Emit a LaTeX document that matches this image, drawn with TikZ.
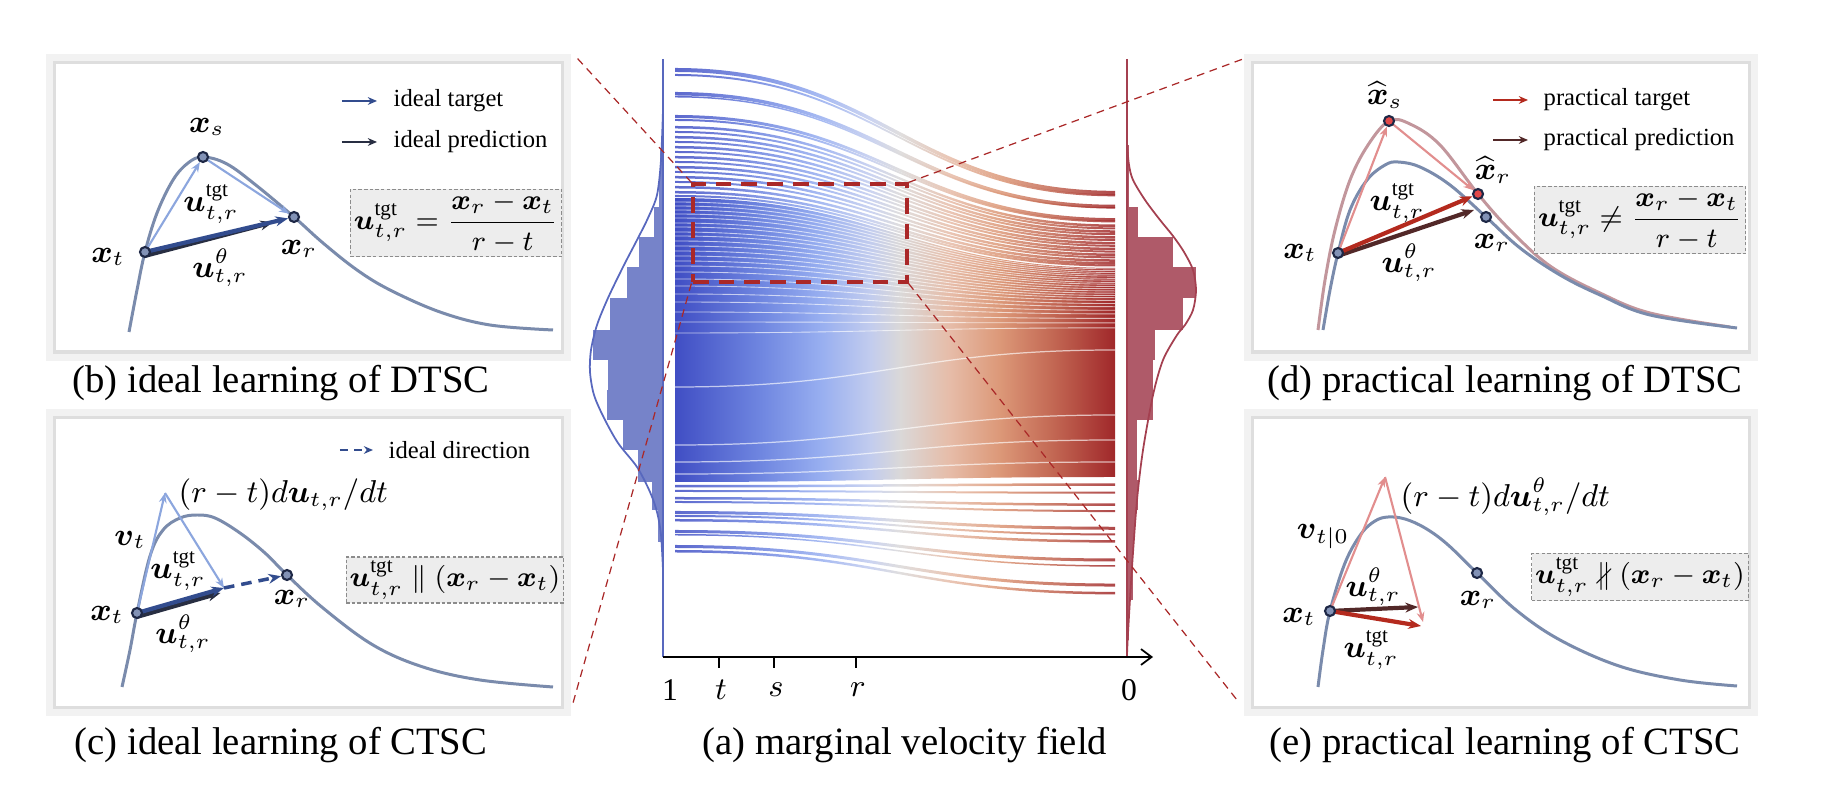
\documentclass[tikz,border=0pt]{standalone}
\usepackage{amsmath,amssymb}
\usepackage{fontspec}
\setmainfont{Liberation Serif}
\usetikzlibrary{arrows.meta}

\definecolor{curveblue}{RGB}{122,139,172}
\definecolor{curverose}{RGB}{194,150,156}
\definecolor{dotfill}{RGB}{130,146,182}
\definecolor{dotline}{RGB}{30,40,70}
\definecolor{dotred}{RGB}{226,72,72}
\definecolor{lightblue}{RGB}{140,166,222}
\definecolor{tgtblue}{RGB}{50,76,142}
\definecolor{predgray}{RGB}{40,46,66}
\definecolor{lightred}{RGB}{226,142,142}
\definecolor{tgtred}{RGB}{180,42,30}
\definecolor{predbrown}{RGB}{82,40,40}
\definecolor{zoomred}{RGB}{170,40,40}
\definecolor{histblue}{RGB}{106,120,196}
\definecolor{histred}{RGB}{168,76,92}
\definecolor{axisblue}{RGB}{88,104,190}
\definecolor{axisred}{RGB}{164,64,80}
\definecolor{vA}{RGB}{64,78,196}
\definecolor{vB}{RGB}{111,134,224}
\definecolor{vC}{RGB}{151,174,240}
\definecolor{vD}{RGB}{194,204,238}
\definecolor{vE}{RGB}{218,216,216}
\definecolor{vF}{RGB}{230,188,168}
\definecolor{vG}{RGB}{220,152,120}
\definecolor{vH}{RGB}{196,106,85}
\definecolor{vI}{RGB}{160,40,42}

\pgfdeclarehorizontalshading{velo}{100bp}{color(0bp)=(vA); color(25bp)=(vA); color(34.7bp)=(vB); color(41.5bp)=(vC); color(47.2bp)=(vD); color(50.6bp)=(vE); color(56.2bp)=(vF); color(61.9bp)=(vG); color(67.6bp)=(vH); color(75bp)=(vI); color(100bp)=(vI)}

\pgfdeclarelayer{curves}
\pgfdeclarelayer{arrows}
\pgfsetlayers{curves,arrows,main}

% left y, right y, width
\newcommand{\flowband}[3]{%
	\shade[shading=velo, opacity=0.85] (675,#1) .. controls (880,#1) and (910,#2) .. (1115,#2)
		-- (1115,#2+#3) .. controls (910,#2+#3) and (880,#1+#3) .. (675,#1+#3) -- cycle;}

\tikzset{
	panel/.style={fill=white, draw=black!13, line width=0.9pt, preaction={draw=black!5, line width=5pt}},
	curve/.style={line width=0.85pt, curveblue},
	roseline/.style={line width=0.85pt, curverose},
	dot/.style={circle, draw=dotline, fill=dotfill, line width=0.6pt, inner sep=0pt, minimum size=0.1cm},
	reddot/.style={dot, fill=dotred},
	thinarrow/.style={line width=0.6pt, -{Stealth[length=2.8pt, width=2.2pt]}},
	thickarrow/.style={line width=1.2pt, -{Stealth[length=3.6pt, width=2.8pt]}},
	legarrow/.style={line width=0.8pt, -{Stealth[length=2.6pt, width=2.2pt]}},
	gap/.style={white, opacity=0.65, line width=0.25pt},
	lab/.style={font=\fontsize{9}{10}\selectfont, inner sep=0pt},
	legtext/.style={font=\fontsize{7}{8}\selectfont, inner sep=0pt, anchor=west},
	formula/.style={draw=black!45, dash pattern=on 1pt off 0.6pt, fill=black!7, line width=0.3pt, font=\fontsize{8}{9}\selectfont, inner sep=1pt},
	caption/.style={font=\fontsize{11}{13}\selectfont, inner sep=0pt},
	zoomline/.style={zoomred, dash pattern=on 2.2pt off 1.6pt, line width=0.35pt},
	zoombox/.style={draw=zoomred, dash pattern=on 4.5pt off 2.8pt, line width=0.9pt, inner sep=0pt},
}

\begin{document}
\begin{tikzpicture}[x=0.01cm, y=-0.01cm]
	\useasboundingbox (0,0) rectangle (1822,798);

	%%% PANELS
	\begin{pgfonlayer}{curves}
		\node[panel, minimum width=5.07cm, minimum height=2.89cm] (panelb) at (308.5,207.5) {};
		\node[panel, minimum width=5.07cm, minimum height=2.89cm] (panelc) at (308.5,562.5) {};
		\node[panel, minimum width=4.96cm, minimum height=2.89cm] (paneld) at (1501,207.5) {};
		\node[panel, minimum width=4.96cm, minimum height=2.89cm] (panele) at (1501,562.5) {};
	\end{pgfonlayer}

	%%% (a) VELOCITY FIELD
	\shade[shading=velo] (675,198) .. controls (880,198) and (910,268) .. (1115,268)
		-- (1115,477) .. controls (910,477) and (880,482) .. (675,482) -- cycle;
	\foreach \ly/\lw in {68/4, 74/2, 92/3.5, 96/1.5, 115/3, 119/2, 126/2.5, 131/2, 136/2.5, 141/2, 146/2.5, 151/2, 156/2.5, 161/2, 166/2.5, 171/2, 176/2.5, 181/2, 186/2.5, 191/2.5, 195/2}{
		\pgfmathsetmacro\ry{192+(\ly-70)*0.58}
		\flowband{\ly}{\ry}{\lw}
	}
	\foreach \ly/\lw in {485/2.5, 490/2, 497/2.5, 501/2, 511/3, 515/2, 519/2.5, 530/3, 534/1.5, 545/3, 550/2.5}{
		\pgfmathsetmacro\ry{480+(\ly-483)*1.67}
		\flowband{\ly}{\ry}{\lw}
	}
	\foreach \ly in {202,206,210,214,218,223,227,232,236,241,246,251,256,261,266,272,279,286,294,302,312,322,333}{
		\pgfmathsetmacro\ry{268+(\ly-200)*0.45}
		\draw[gap] (675,\ly) .. controls (880,\ly) and (910,\ry) .. (1115,\ry);
	}
	\foreach \ly/\ry in {387/350, 445/415, 462/440, 474/462}
		\draw[gap, line width=0.35pt] (675,\ly) .. controls (880,\ly) and (910,\ry) .. (1115,\ry);

	% histograms
	\foreach \ya/\yb/\hw in {117/150/1.5, 150/180/3, 180/207/4, 207/237/9, 237/267/24, 267/298/36, 298/330/53, 330/360/70, 360/390/55, 390/420/56, 420/450/40, 450/482/25, 482/510/11, 510/542/5}
		\fill[histblue, opacity=0.92] (663-\hw,\ya) rectangle (663,\yb);
	\foreach \ya/\yb/\hw in {145/207/2, 207/237/11, 237/267/46, 267/298/69, 298/330/56, 330/360/28, 360/390/26, 390/420/26, 420/480/10, 480/510/11, 510/540/8, 540/600/6, 600/640/2}
		\fill[histred, opacity=0.92] (1127,\ya) rectangle (1127+\hw,\yb);
	\draw[axisblue, line width=0.5pt] plot[smooth] coordinates {(663,110) (661,160) (657,195) (648,218) (637,240) (623,267) (608,298) (597,325) (591,350) (590,372) (594,395) (604,418) (618,443) (637,467) (650,492) (657,512) (661,535) (663,570)};
	\draw[axisred, line width=0.5pt] plot[smooth] coordinates {(1127,145) (1129,165) (1133,180) (1145,200) (1160,220) (1173,236) (1184,252) (1193,270) (1196,290) (1193,310) (1185,325) (1177,335) (1163,360) (1153,395) (1143,450) (1137,500) (1132,567) (1128,633) (1127,655)};

	% axes
	\coordinate (one) at (663,657);
	\coordinate (zero) at (1127,657);
	\coordinate (axend) at (1153,657);
	\draw[axisblue, line width=0.5pt] (663,59) -- (one);
	\draw[axisred, line width=0.5pt] (1127,59) -- (zero);
	\draw[line width=0.5pt, -{Straight Barb[length=3pt, width=4.5pt]}] (one) -- (axend);
	\foreach \tx/\tl in {719/t, 774/s, 856/r}{
		\draw[line width=0.5pt] (\tx,657) -- (\tx,668);
		\node[lab] (tick\tl) at (\tx+2,690) {$\tl$};
	}
	\node[lab] (tickone) at (670,690) {1};
	\node[lab] (tickzero) at (1129,690) {0};
	\node[caption] (capa) at (905,745) {(a) marginal velocity field};

	%%% (b) IDEAL DTSC
	\begin{pgfonlayer}{curves}
		\draw[curve] plot[smooth, tension=0.6] coordinates {(129,332) (137,290) (145,252) (157,213) (173,180) (188,163) (203,157) (227,164) (257,186) (294,217) (323,243) (357,270) (390,290) (440,312) (490,325) (553,330)};
	\end{pgfonlayer}
	\node[dot] (xtb) at (145,252) {};
	\node[dot] (xsb) at (203,157) {};
	\node[dot] (xrb) at (294,217) {};
	\begin{pgfonlayer}{arrows}
		\draw[thinarrow, lightblue] (xtb.center) -- (xsb);
		\draw[thinarrow, lightblue] (xsb.center) -- (xrb);
		\draw[thickarrow, predgray] ([yshift=-1.1pt]xtb.center) -- ([xshift=-6pt,yshift=-1.5pt]xrb.center);
		\draw[thickarrow, tgtblue] (xtb.center) -- (xrb);
	\end{pgfonlayer}
	\node[lab] (lxsb) at (207,127) {$\boldsymbol{x}_s$};
	\node[lab] (lxtb) at (108,257) {$\boldsymbol{x}_t$};
	\node[lab] (lxrb) at (299,249) {$\boldsymbol{x}_r$};
	\node[lab] (lutb) at (211,204) {$\boldsymbol{u}^{\mathrm{tgt}}_{t,r}$};
	\node[lab] (luqb) at (220,268) {$\boldsymbol{u}^{\theta}_{t,r}$};
	\node[legtext] (legtb) at (393,101) {ideal target};
	\node[legtext] (legpb) at (393,142) {ideal prediction};
	\draw[legarrow, tgtblue] ([xshift=-0.51cm]legtb.west) -- ([xshift=-0.16cm]legtb.west);
	\draw[legarrow, predgray] ([xshift=-0.51cm]legpb.west) -- ([xshift=-0.16cm]legpb.west);
	\node[formula, minimum width=1.75cm, minimum height=0.58cm] (fb) at (456,223) {$\boldsymbol{u}^{\mathrm{tgt}}_{t,r}=\dfrac{\boldsymbol{x}_r-\boldsymbol{x}_t}{r-t}$};
	\node[caption] (capb) at (281,383) {(b) ideal learning of DTSC};

	%%% (c) IDEAL CTSC
	\begin{pgfonlayer}{curves}
		\draw[curve] plot[smooth, tension=0.6] coordinates {(122,687) (130,650) (137,613) (150,556) (163,530) (180,518) (197,515) (215,518) (240,533) (265,553) (287,575) (323,608) (373,645) (423,667) (480,680) (553,687)};
	\end{pgfonlayer}
	\node[dot] (xtc) at (137,613) {};
	\node[dot] (xrc) at (287,575) {};
	\coordinate (vc) at (165,493);
	\coordinate (mc) at (224,588);
	\begin{pgfonlayer}{arrows}
		\draw[thinarrow, lightblue] (xtc.center) -- (vc);
		\draw[thinarrow, lightblue] (vc) -- (mc);
		\draw[thickarrow, predgray] ([yshift=-1.1pt]xtc.center) -- ([xshift=-1pt,yshift=-1.4pt]mc);
		\draw[thickarrow, tgtblue] (xtc.center) -- (mc);
		\draw[thickarrow, tgtblue, line width=1pt, dash pattern=on 3pt off 2pt] (mc) -- (xrc);
	\end{pgfonlayer}
	\node[lab, anchor=west] (ldudt) at (178,495) {$(r-t)d\boldsymbol{u}_{t,r}/dt$};
	\node[lab] (lvc) at (130,540) {$\boldsymbol{v}_t$};
	\node[lab] (lutc) at (178,571) {$\boldsymbol{u}^{\mathrm{tgt}}_{t,r}$};
	\node[lab] (lxtc) at (107,615) {$\boldsymbol{x}_t$};
	\node[lab] (luqc) at (183,634) {$\boldsymbol{u}^{\theta}_{t,r}$};
	\node[lab] (lxrc) at (292,599) {$\boldsymbol{x}_r$};
	\node[legtext] (legdc) at (388,450) {ideal direction};
	\draw[legarrow, tgtblue, dash pattern=on 2.4pt off 1.6pt] ([xshift=-0.48cm]legdc.west) -- ([xshift=-0.15cm]legdc.west);
	\node[formula, minimum width=1.75cm, minimum height=0.46cm] (fc) at (455,580) {$\boldsymbol{u}^{\mathrm{tgt}}_{t,r}\parallel(\boldsymbol{x}_r-\boldsymbol{x}_t)$};
	\node[caption] (capc) at (281,745) {(c) ideal learning of CTSC};

	%%% (d) PRACTICAL DTSC
	\begin{pgfonlayer}{curves}
		\draw[roseline] plot[smooth, tension=0.6] coordinates {(1318,330) (1325,280) (1335,230) (1350,180) (1368,145) (1389,121) (1410,124) (1440,145) (1478,194) (1510,230) (1550,266) (1600,293) (1650,313) (1730,327)};
		\draw[curve] plot[smooth, tension=0.6] coordinates {(1323,330) (1330,290) (1338,253) (1350,210) (1367,180) (1385,165) (1398,162) (1420,167) (1450,185) (1486,217) (1520,248) (1560,275) (1600,295) (1650,315) (1737,328)};
	\end{pgfonlayer}
	\node[dot] (xtd) at (1338,253) {};
	\node[reddot] (xsd) at (1389,121) {};
	\node[reddot] (xhd) at (1478,194) {};
	\node[dot] (xrd) at (1486,217) {};
	\coordinate (pd) at (1474,210);
	\begin{pgfonlayer}{arrows}
		\draw[thinarrow, lightred] (xtd.center) -- (xsd);
		\draw[thinarrow, lightred] (xsd.center) -- (xhd);
		\draw[thickarrow, predbrown] ([yshift=-0.8pt]xtd.center) -- (pd);
		\draw[thickarrow, tgtred] (xtd.center) -- (xhd);
	\end{pgfonlayer}
	\node[lab] (lxsd) at (1385,95) {$\widehat{\boldsymbol{x}}_s$};
	\node[lab] (lxhd) at (1493,170) {$\widehat{\boldsymbol{x}}_r$};
	\node[lab] (lutd) at (1397,203) {$\boldsymbol{u}^{\mathrm{tgt}}_{t,r}$};
	\node[lab] (lxtd) at (1300,253) {$\boldsymbol{x}_t$};
	\node[lab] (luqd) at (1409,263) {$\boldsymbol{u}^{\theta}_{t,r}$};
	\node[lab] (lxrd) at (1492,243) {$\boldsymbol{x}_r$};
	\node[legtext] (legtd) at (1543,100) {practical target};
	\node[legtext] (legpd) at (1543,140) {practical prediction};
	\draw[legarrow, tgtred] ([xshift=-0.5cm]legtd.west) -- ([xshift=-0.15cm]legtd.west);
	\draw[legarrow, predbrown] ([xshift=-0.5cm]legpd.west) -- ([xshift=-0.15cm]legpd.west);
	\node[formula, minimum width=1.76cm, minimum height=0.55cm] (fd) at (1640,220) {$\boldsymbol{u}^{\mathrm{tgt}}_{t,r}\neq\dfrac{\boldsymbol{x}_r-\boldsymbol{x}_t}{r-t}$};
	\node[caption] (capd) at (1505,383) {(d) practical learning of DTSC};

	%%% (e) PRACTICAL CTSC
	\begin{pgfonlayer}{curves}
		\draw[curve] plot[smooth, tension=0.6] coordinates {(1318,687) (1323,650) (1330,611) (1345,563) (1361,534) (1375,521) (1388,517) (1405,519) (1425,528) (1447,544) (1477,573) (1516,610) (1560,640) (1619,666) (1680,680) (1737,686)};
	\end{pgfonlayer}
	\node[dot] (xte) at (1330,611) {};
	\node[dot] (xre) at (1477,573) {};
	\coordinate (ve) at (1385,477);
	\coordinate (me) at (1423,622);
	\coordinate (pe) at (1418,607);
	\coordinate (te) at (1421,626);
	\begin{pgfonlayer}{arrows}
		\draw[thinarrow, lightred] (xte.center) -- (ve);
		\draw[thinarrow, lightred] (ve) -- (me);
		\draw[thickarrow, predbrown] (xte.center) -- (pe);
		\draw[thickarrow, tgtred] (xte.center) -- (te);
	\end{pgfonlayer}
	\node[lab, anchor=west] (ldude) at (1400,497) {$(r-t)d\boldsymbol{u}^{\theta}_{t,r}/dt$};
	\node[lab] (lve) at (1323,537) {$\boldsymbol{v}_{t|0}$};
	\node[lab] (luqe) at (1373,587) {$\boldsymbol{u}^{\theta}_{t,r}$};
	\node[lab] (lxte) at (1299,617) {$\boldsymbol{x}_t$};
	\node[lab] (lute) at (1371,650) {$\boldsymbol{u}^{\mathrm{tgt}}_{t,r}$};
	\node[lab] (lxre) at (1478,600) {$\boldsymbol{x}_r$};
	\node[formula, minimum width=1.76cm, minimum height=0.47cm] (fe) at (1640,577) {$\boldsymbol{u}^{\mathrm{tgt}}_{t,r}\nparallel(\boldsymbol{x}_r-\boldsymbol{x}_t)$};
	\node[caption] (cape) at (1505,745) {(e) practical learning of CTSC};

	%%% ZOOM
	\node[zoombox, minimum width=2.14cm, minimum height=0.98cm] (zoom) at (800,233) {};
	\coordinate (zbtl) at (577,58);
	\coordinate (zbbl) at (573,703);
	\coordinate (zbtr) at (1243,59);
	\coordinate (zbbr) at (1237,700);
	\draw[zoomline] (zoom.north west) -- (zbtl);
	\draw[zoomline] (zoom.south west) -- (zbbl);
	\draw[zoomline] (zoom.north east) -- (zbtr);
	\draw[zoomline] (zoom.south east) -- (zbbr);
\end{tikzpicture}
\end{document}
